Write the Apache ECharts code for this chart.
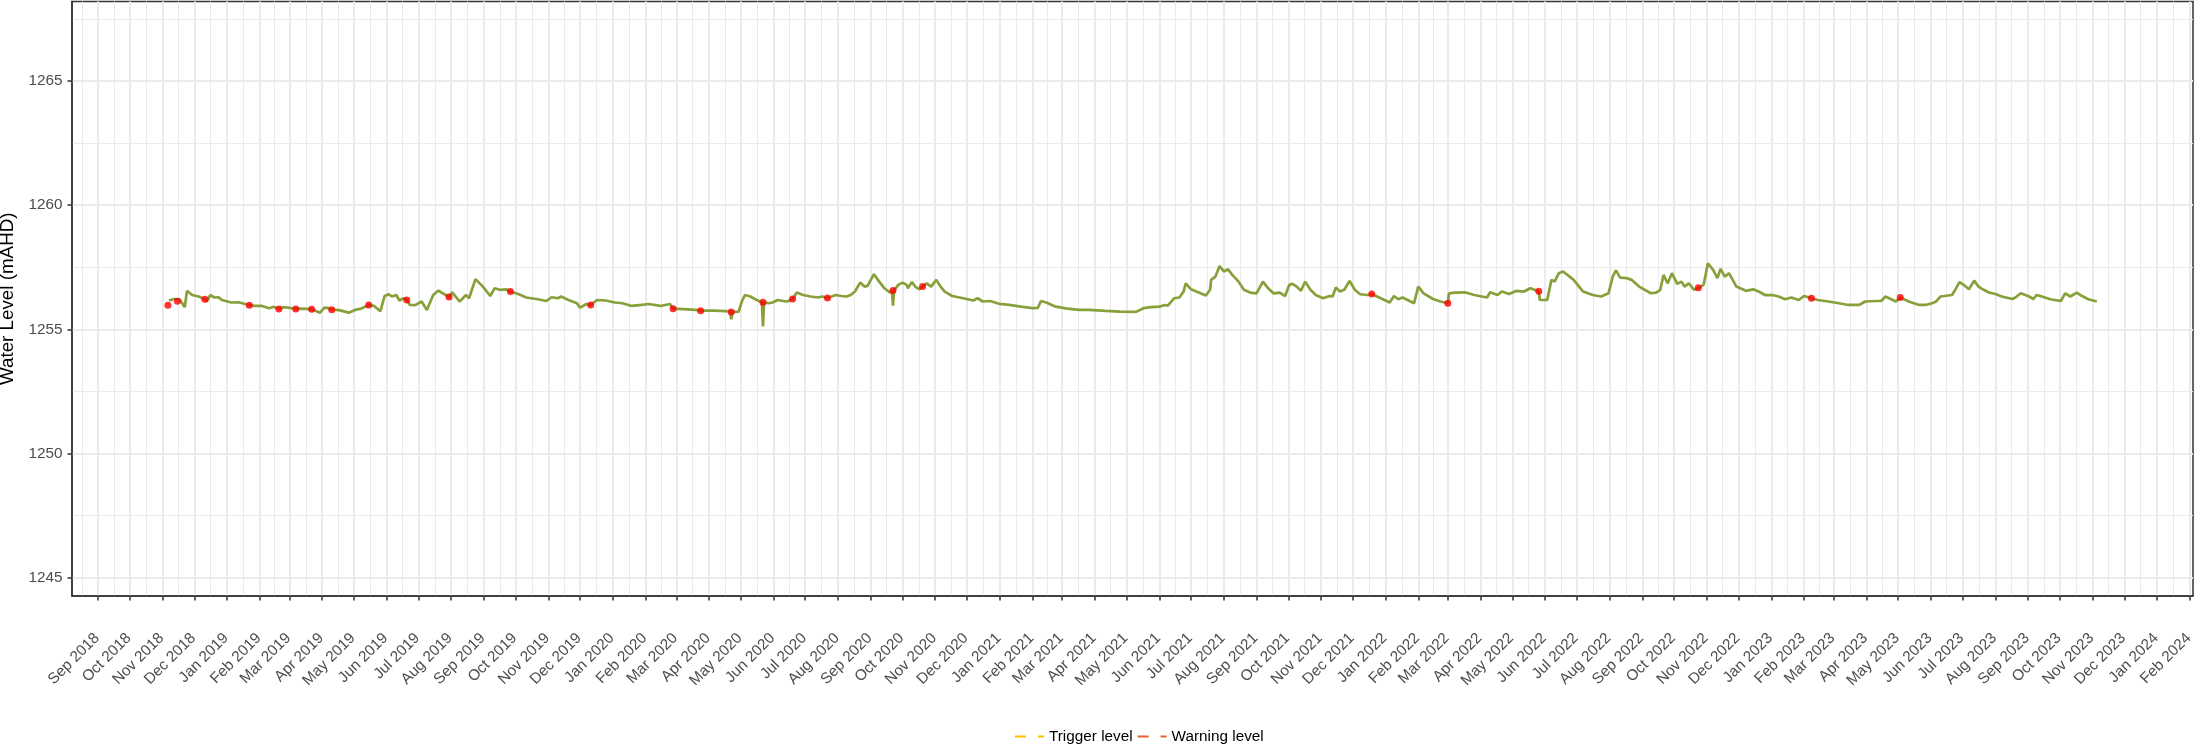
<!DOCTYPE html>
<html><head><meta charset="utf-8">
<script src="https://cdn.jsdelivr.net/npm/echarts@6/dist/echarts.min.js"></script>
<style>html,body{margin:0;padding:0;background:#fff}#c{width:2194px;height:747px}</style>
</head><body><div id="c"></div>
<script>
// ---- data ----
const loggerDates = [
'2018-11-07','2018-11-12','2018-11-17','2018-11-20','2018-11-22','2018-11-24','2018-11-29','2018-12-05','2018-12-09','2018-12-11',
'2018-12-13','2018-12-16','2018-12-20','2018-12-24','2018-12-27','2019-01-05','2019-01-12','2019-01-18','2019-01-22','2019-01-27',
'2019-02-03','2019-02-10','2019-02-14','2019-02-19','2019-02-23','2019-03-01','2019-03-07','2019-03-11','2019-03-22','2019-03-30',
'2019-04-03','2019-04-07','2019-04-10','2019-04-17','2019-04-26','2019-05-02','2019-05-07','2019-05-15','2019-05-20','2019-05-26',
'2019-05-30','2019-06-03','2019-06-06','2019-06-10','2019-06-13','2019-06-17','2019-06-20','2019-06-23','2019-06-28','2019-07-04',
'2019-07-09','2019-07-15','2019-07-20','2019-07-24','2019-07-30','2019-08-02','2019-08-09','2019-08-15','2019-08-18','2019-08-20',
'2019-08-24','2019-08-31','2019-09-07','2019-09-11','2019-09-16','2019-09-22','2019-09-26','2019-10-04','2019-10-11','2019-10-22',
'2019-10-30','2019-11-04','2019-11-10','2019-11-13','2019-11-20','2019-11-28','2019-12-01','2019-12-07','2019-12-11','2019-12-17',
'2019-12-25','2020-01-03','2020-01-10','2020-01-19','2020-01-28','2020-02-04','2020-02-15','2020-02-24','2020-02-27','2020-03-08',
'2020-03-19','2020-03-24','2020-04-06','2020-04-17','2020-04-21','2020-04-22','2020-04-23','2020-04-29','2020-05-02','2020-05-05',
'2020-05-10','2020-05-16','2020-05-21','2020-05-22','2020-05-23','2020-05-27','2020-05-31','2020-06-05','2020-06-10','2020-06-14',
'2020-06-19','2020-06-23','2020-06-29','2020-07-06','2020-07-13','2020-07-17','2020-07-22','2020-07-26','2020-07-30','2020-08-04',
'2020-08-09','2020-08-13','2020-08-17','2020-08-22','2020-08-26','2020-08-29','2020-09-01','2020-09-04','2020-09-09','2020-09-14',
'2020-09-19','2020-09-21','2020-09-22','2020-09-23','2020-09-27','2020-10-01','2020-10-05','2020-10-06','2020-10-10','2020-10-13',
'2020-10-17','2020-10-20','2020-10-24','2020-10-28','2020-11-02','2020-11-06','2020-11-10','2020-11-17','2020-11-24','2020-12-02',
'2020-12-07','2020-12-11','2020-12-16','2020-12-23','2021-01-01','2021-01-10','2021-01-21','2021-02-01','2021-02-06','2021-02-09',
'2021-02-14','2021-02-23','2021-03-06','2021-03-17','2021-03-27','2021-04-11','2021-04-25','2021-05-10','2021-05-17','2021-05-24',
'2021-06-01','2021-06-06','2021-06-09','2021-06-15','2021-06-20','2021-06-24','2021-06-26','2021-07-01','2021-07-06','2021-07-15',
'2021-07-19','2021-07-20','2021-07-24','2021-07-28','2021-08-01','2021-08-05','2021-08-09','2021-08-15','2021-08-20','2021-08-26',
'2021-09-01','2021-09-07','2021-09-12','2021-09-17','2021-09-23','2021-09-28','2021-10-02','2021-10-05','2021-10-09','2021-10-13',
'2021-10-17','2021-10-22','2021-10-27','2021-11-03','2021-11-09','2021-11-12','2021-11-15','2021-11-19','2021-11-23','2021-11-28',
'2021-12-03','2021-12-08','2021-12-15','2021-12-19','2021-12-26','2021-12-31','2022-01-05','2022-01-09','2022-01-13','2022-01-17',
'2022-01-20','2022-01-28','2022-02-01','2022-02-06','2022-02-15','2022-02-22','2022-03-01','2022-03-02','2022-03-08','2022-03-17',
'2022-03-26','2022-04-07','2022-04-10','2022-04-17','2022-04-21','2022-04-28','2022-05-05','2022-05-12','2022-05-18','2022-05-26',
'2022-05-27','2022-06-03','2022-06-07','2022-06-10','2022-06-14','2022-06-18','2022-06-23','2022-06-28','2022-07-07','2022-07-16',
'2022-07-24','2022-07-31','2022-08-04','2022-08-07','2022-08-11','2022-08-17','2022-08-22','2022-08-29','2022-09-09','2022-09-14',
'2022-09-18','2022-09-21','2022-09-25','2022-09-29','2022-10-04','2022-10-08','2022-10-11','2022-10-15','2022-10-20','2022-10-24',
'2022-10-29','2022-11-02','2022-11-07','2022-11-11','2022-11-14','2022-11-18','2022-11-22','2022-11-29','2022-12-08','2022-12-15',
'2022-12-20','2022-12-26','2023-01-02','2023-01-08','2023-01-14','2023-01-20','2023-01-27','2023-02-01','2023-02-08','2023-02-14',
'2023-02-24','2023-03-06','2023-03-15','2023-03-25','2023-03-31','2023-04-10','2023-04-15','2023-04-19','2023-04-24','2023-04-29',
'2023-05-03','2023-05-11','2023-05-21','2023-05-27','2023-06-02','2023-06-06','2023-06-10','2023-06-14','2023-06-21','2023-06-24',
'2023-06-28','2023-07-02','2023-07-07','2023-07-12','2023-07-16','2023-07-21','2023-07-26','2023-08-01','2023-08-07','2023-08-17',
'2023-08-20','2023-08-25','2023-09-02','2023-09-06','2023-09-09','2023-09-14','2023-09-22','2023-10-02','2023-10-06','2023-10-11',
'2023-10-17','2023-10-22','2023-10-28','2023-11-05'
];
const loggerLevels = [
1256.16,1256.22,1256.21,1256.02,1255.89,1256.55,1256.38,1256.32,1256.25,1256.21,
1256.12,1256.38,1256.28,1256.29,1256.18,1256.08,1256.09,1256.02,1255.97,1255.94,
1255.94,1255.85,1255.91,1255.82,1255.89,1255.86,1255.82,1255.83,1255.81,1255.67,
1255.87,1255.85,1255.79,1255.77,1255.67,1255.78,1255.82,1255.98,1255.94,1255.73,
1256.34,1256.41,1256.32,1256.38,1256.16,1256.25,1256.18,1255.98,1255.97,1256.12,
1255.78,1256.38,1256.56,1256.45,1256.30,1256.49,1256.12,1256.38,1256.25,1256.52,
1257.02,1256.72,1256.34,1256.65,1256.59,1256.61,1256.52,1256.41,1256.28,1256.21,
1256.14,1256.29,1256.25,1256.32,1256.18,1256.05,1255.87,1256.02,1255.98,1256.18,
1256.16,1256.08,1256.05,1255.94,1255.98,1256.02,1255.94,1256.02,1255.83,1255.81,
1255.78,1255.75,1255.75,1255.73,1255.71,1255.40,1255.70,1255.71,1256.12,1256.38,
1256.32,1256.18,1256.09,1255.11,1256.09,1256.05,1256.08,1256.18,1256.14,1256.12,
1256.22,1256.48,1256.38,1256.32,1256.28,1256.32,1256.26,1256.32,1256.38,1256.34,
1256.32,1256.38,1256.52,1256.88,1256.72,1256.75,1256.99,1257.22,1256.92,1256.65,
1256.48,1256.56,1255.95,1256.56,1256.79,1256.88,1256.79,1256.65,1256.90,1256.72,
1256.61,1256.72,1256.85,1256.72,1256.99,1256.72,1256.52,1256.34,1256.28,1256.21,
1256.16,1256.25,1256.12,1256.14,1256.02,1255.98,1255.91,1255.85,1255.86,1256.14,
1256.08,1255.91,1255.83,1255.78,1255.78,1255.74,1255.71,1255.70,1255.85,1255.89,
1255.91,1255.98,1255.95,1256.25,1256.28,1256.52,1256.85,1256.61,1256.52,1256.36,
1256.59,1256.99,1257.12,1257.55,1257.33,1257.42,1257.19,1256.92,1256.59,1256.48,
1256.45,1256.92,1256.65,1256.45,1256.48,1256.34,1256.79,1256.83,1256.72,1256.55,
1256.92,1256.59,1256.38,1256.25,1256.34,1256.32,1256.68,1256.52,1256.59,1256.95,
1256.59,1256.41,1256.38,1256.42,1256.28,1256.18,1256.08,1256.34,1256.21,1256.28,
1256.22,1256.05,1256.72,1256.45,1256.22,1256.12,1256.05,1256.45,1256.48,1256.49,
1256.38,1256.28,1256.49,1256.38,1256.52,1256.42,1256.55,1256.52,1256.65,1256.53,
1256.18,1256.18,1256.99,1256.92,1257.26,1257.33,1257.16,1256.99,1256.52,1256.38,
1256.32,1256.45,1257.12,1257.37,1257.08,1257.06,1256.99,1256.72,1256.45,1256.48,
1256.59,1257.19,1256.85,1257.26,1256.83,1256.92,1256.72,1256.85,1256.59,1256.67,
1256.79,1257.66,1257.39,1257.06,1257.43,1257.12,1257.26,1256.72,1256.55,1256.61,
1256.52,1256.38,1256.38,1256.32,1256.21,1256.28,1256.18,1256.34,1256.25,1256.18,
1256.12,1256.05,1255.98,1255.98,1256.12,1256.14,1256.14,1256.32,1256.22,1256.12,
1256.28,1256.12,1255.98,1255.98,1256.05,1256.12,1256.32,1256.34,1256.38,1256.59,
1256.90,1256.79,1256.61,1256.96,1256.72,1256.59,1256.48,1256.42,1256.32,1256.22,
1256.28,1256.45,1256.32,1256.22,1256.38,1256.32,1256.21,1256.14,1256.45,1256.32,
1256.48,1256.34,1256.21,1256.12
];
const sampleDates = [
'2018-11-06','2018-11-15','2018-12-11','2019-01-22','2019-02-19','2019-03-07','2019-03-22','2019-04-10','2019-05-15','2019-06-20',
'2019-07-30','2019-09-26','2019-12-11','2020-02-27','2020-03-24','2020-04-22','2020-05-22','2020-06-19','2020-07-22','2020-09-22',
'2020-10-20','2021-12-19','2022-03-01','2022-05-26','2022-10-24','2023-02-08','2023-05-03'
];
const sampleLevels = [
1255.97,1256.13,1256.21,1255.97,1255.82,1255.82,1255.81,1255.79,1255.98,1256.18,
1256.30,1256.52,1255.98,1255.83,1255.75,1255.70,1256.09,1256.22,1256.26,1256.56,
1256.72,1256.42,1256.05,1256.53,1256.67,1256.25,1256.28
];
const yTickValues = [1245, 1250, 1255, 1260, 1265];
const yMinorValues = [1247.5, 1252.5, 1257.5, 1262.5, 1267.5];
const xTickLabels = [
'Sep 2018','Oct 2018','Nov 2018','Dec 2018',
'Jan 2019','Feb 2019','Mar 2019','Apr 2019','May 2019','Jun 2019','Jul 2019','Aug 2019','Sep 2019','Oct 2019','Nov 2019','Dec 2019',
'Jan 2020','Feb 2020','Mar 2020','Apr 2020','May 2020','Jun 2020','Jul 2020','Aug 2020','Sep 2020','Oct 2020','Nov 2020','Dec 2020',
'Jan 2021','Feb 2021','Mar 2021','Apr 2021','May 2021','Jun 2021','Jul 2021','Aug 2021','Sep 2021','Oct 2021','Nov 2021','Dec 2021',
'Jan 2022','Feb 2022','Mar 2022','Apr 2022','May 2022','Jun 2022','Jul 2022','Aug 2022','Sep 2022','Oct 2022','Nov 2022','Dec 2022',
'Jan 2023','Feb 2023','Mar 2023','Apr 2023','May 2023','Jun 2023','Jul 2023','Aug 2023','Sep 2023','Oct 2023','Nov 2023','Dec 2023',
'Jan 2024','Feb 2024'
];
const legendNames = ['Trigger level', 'Warning level'];

// ---- axis helpers (x is a numeric time axis in ms) ----
const MONTHS = ['Jan','Feb','Mar','Apr','May','Jun','Jul','Aug','Sep','Oct','Nov','Dec'];
function dayTime(s) { const p = s.split('-'); return Date.UTC(+p[0], +p[1] - 1, +p[2]); }
function labelTime(l) { const p = l.split(' '); return Date.UTC(+p[1], MONTHS.indexOf(p[0]), 1); }
function fmtMonth(v) { const d = new Date(v); return MONTHS[d.getUTCMonth()] + ' ' + d.getUTCFullYear(); }
const xTickTimes = xTickLabels.map(labelTime);
const xMinorTimes = [xTickTimes[0] - (xTickTimes[1] - xTickTimes[0]) / 2];
for (let i = 0; i < xTickTimes.length - 1; i++) xMinorTimes.push((xTickTimes[i] + xTickTimes[i + 1]) / 2);
const X_MIN = Date.UTC(2018, 7, 7, 6);
const X_MAX = Date.UTC(2024, 1, 4, 0);
const Y_MIN = 1244.26, Y_MAX = 1268.2;

const FONT = 'Liberation Sans, Arial, Helvetica, sans-serif';
const GRID = '#EBEBEB', DARK = '#333333';

const chart = echarts.init(document.getElementById('c'), null, { renderer: 'canvas' });
chart.setOption({
  animation: false,
  backgroundColor: '#ffffff',
  textStyle: { fontFamily: FONT },
  grid: { left: 72, right: 1, top: 1.5, bottom: 151, show: true, borderColor: DARK, borderWidth: 1.5,
    backgroundColor: 'transparent', containLabel: false, outerBoundsMode: 'none' },
  xAxis: [
    { type: 'value', min: X_MIN, max: X_MAX, gridIndex: 0, scale: true,
      axisLine: { show: true, onZero: false, lineStyle: { color: DARK, width: 1.5 } },
      axisTick: { show: true, length: 4.5, lineStyle: { color: DARK, width: 1.5 }, customValues: xTickTimes },
      axisLabel: { show: true, customValues: xTickTimes, rotate: 45, align: 'right', verticalAlign: 'top', margin: 28,
        padding: [0, 9, 0, 0],
        fontSize: 15.3, color: '#4D4D4D', fontFamily: FONT, hideOverlap: false, formatter: fmtMonth },
      splitLine: { show: true, lineStyle: { color: GRID, width: 2 } } },
    { type: 'value', min: X_MIN, max: X_MAX, gridIndex: 0, position: 'bottom', scale: true,
      axisLine: { show: false }, axisTick: { show: false, customValues: xMinorTimes },
      axisLabel: { show: false, customValues: xMinorTimes, formatter: function () { return ''; } },
      splitLine: { show: true, lineStyle: { color: GRID, width: 1 } } }
  ],
  yAxis: [
    { type: 'value', min: Y_MIN, max: Y_MAX, scale: true,
      name: 'Water Level (mAHD)', nameLocation: 'middle', nameGap: 43,
      nameTextStyle: { fontSize: 18.8, color: '#000000', fontFamily: FONT },
      axisLine: { show: true, onZero: false, lineStyle: { color: DARK, width: 1.5 } },
      axisTick: { show: true, length: 4.5, lineStyle: { color: DARK, width: 1.5 }, customValues: yTickValues },
      axisLabel: { show: true, customValues: yTickValues, margin: 9.5, fontSize: 15.3, color: '#4D4D4D', fontFamily: FONT,
        formatter: function (v) { return String(v); } },
      splitLine: { show: true, lineStyle: { color: GRID, width: 2 } } },
    { type: 'value', min: Y_MIN, max: Y_MAX, position: 'left', scale: true,
      axisLine: { show: false }, axisTick: { show: false, customValues: yMinorValues },
      axisLabel: { show: false, customValues: yMinorValues, formatter: function () { return ''; } },
      splitLine: { show: true, lineStyle: { color: GRID, width: 1 } } }
  ],
  legend: {
    data: legendNames, left: 1009, top: 724, orient: 'horizontal',
    itemWidth: 29, itemHeight: 14, itemGap: 4,
    itemStyle: { color: 'rgba(0,0,0,0)', borderColor: 'rgba(0,0,0,0)', borderWidth: 0, opacity: 0 },
    textStyle: { fontSize: 15.3, color: '#000000', fontFamily: FONT }
  },
  series: [
    { type: 'line', name: 'Water level', xAxisIndex: 0, yAxisIndex: 0, z: 3,
      data: loggerDates.map(function (d, i) { return [dayTime(d), loggerLevels[i]]; }),
      symbol: 'none', showSymbol: false, lineStyle: { color: '#88A03A', width: 2.7 } },
    { type: 'scatter', name: 'Samples', xAxisIndex: 0, yAxisIndex: 0, z: 4,
      data: sampleDates.map(function (d, i) { return [dayTime(d), sampleLevels[i]]; }),
      symbol: 'circle', symbolSize: 7, itemStyle: { color: '#FF0000' } },
    { type: 'line', name: legendNames[0], xAxisIndex: 0, yAxisIndex: 0, data: [], symbol: 'none',
      itemStyle: { color: '#FFC000' }, lineStyle: { color: '#FFC000', type: [11, 12], width: 2.6 } },
    { type: 'line', name: legendNames[1], xAxisIndex: 0, yAxisIndex: 0, data: [], symbol: 'none',
      itemStyle: { color: '#E8612C' }, lineStyle: { color: '#E8612C', type: [11, 12], width: 2.6 } }
  ]
});
</script>
</body></html>
